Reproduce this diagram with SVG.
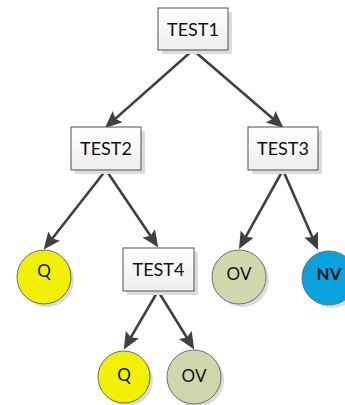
<svg xmlns="http://www.w3.org/2000/svg" width="345" height="405" viewBox="0 0 345 405">
<style>
.box{fill:url(#bg);stroke:#505050;stroke-width:1}
.sh{fill:#dcdcdc}
.circ{stroke:#6e6e6e;stroke-width:1}
.lbl{font-family:Lato,"Liberation Sans",sans-serif;font-size:18px;fill:#111;text-anchor:middle}
.cl{font-family:Lato,"Liberation Sans",sans-serif;font-size:17px;fill:#111;text-anchor:middle}
.edge{stroke:#404040;stroke-width:2.6;fill:none;marker-end:url(#ah)}
</style>
<defs>
<linearGradient id="bg" x1="0" y1="0" x2="0" y2="1">
<stop offset="0" stop-color="#ffffff"/>
<stop offset="1" stop-color="#eeeeee"/>
</linearGradient>
<marker id="ah" markerUnits="userSpaceOnUse" markerWidth="18" markerHeight="16" refX="12" refY="7.5" orient="auto" viewBox="0 0 18 16">
<path d="M0,0 L17,7.5 L0,15 L3,7.5 z" fill="#404040"/>
</marker>
</defs>
<rect width="345" height="405" fill="#ffffff"/>
<g id="connectors">
<line class="edge" x1="193" y1="50" x2="108.7" y2="124.6"/>
<line class="edge" x1="193" y1="50" x2="279.7" y2="124.6"/>
<line class="edge" x1="106" y1="170" x2="46.8" y2="245.5"/>
<line class="edge" x1="106" y1="170" x2="155.5" y2="243.3"/>
<line class="edge" x1="283" y1="170" x2="241.4" y2="244.6"/>
<line class="edge" x1="283" y1="170" x2="316" y2="245.4"/>
<line class="edge" x1="158" y1="291" x2="126.3" y2="345.1"/>
<line class="edge" x1="158" y1="291" x2="191.6" y2="345.2"/>
</g>
<g id="TEST1">
<rect class="sh" x="162" y="12" width="70" height="42"/>
<rect class="box" x="158" y="8" width="70" height="42"/>
<text class="lbl" x="193" y="35.5">TEST1</text>
</g>
<g id="TEST2">
<rect class="sh" x="75" y="131" width="70" height="43"/>
<rect class="box" x="71" y="127" width="70" height="43"/>
<text class="lbl" x="106" y="155">TEST2</text>
</g>
<g id="TEST3">
<rect class="sh" x="252" y="131" width="70" height="43"/>
<rect class="box" x="248" y="127" width="70" height="43"/>
<text class="lbl" x="283" y="155">TEST3</text>
</g>
<g id="TEST4">
<rect class="sh" x="127" y="252" width="71" height="43"/>
<rect class="box" x="123" y="248" width="71" height="43"/>
<text class="lbl" x="158.5" y="276">TEST4</text>
</g>
<g id="Q1">
<circle class="sh" cx="47" cy="280" r="27"/>
<circle class="circ" cx="44" cy="277" r="27" fill="#f0f000"/>
<text class="cl" x="44" y="277">Q</text>
</g>
<g id="OV1">
<circle class="sh" cx="242" cy="280" r="27"/>
<circle class="circ" cx="239" cy="277" r="27" fill="#cfd8ad"/>
<text class="cl" x="239" y="280">OV</text>
</g>
<g id="NV">
<circle class="sh" cx="332" cy="281" r="27"/>
<circle class="circ" cx="329" cy="278" r="27" fill="#08a2df"/>
<text class="cl" x="329" y="280" font-weight="bold">NV</text>
</g>
<g id="Q2">
<circle class="sh" cx="127" cy="380" r="26"/>
<circle class="circ" cx="124" cy="377" r="26" fill="#f0f000"/>
<text class="cl" x="124" y="381">Q</text>
</g>
<g id="OV2">
<circle class="sh" cx="197" cy="380" r="27"/>
<circle class="circ" cx="194" cy="377" r="27" fill="#cfd8ad"/>
<text class="cl" x="194" y="382">OV</text>
</g>
</svg>
